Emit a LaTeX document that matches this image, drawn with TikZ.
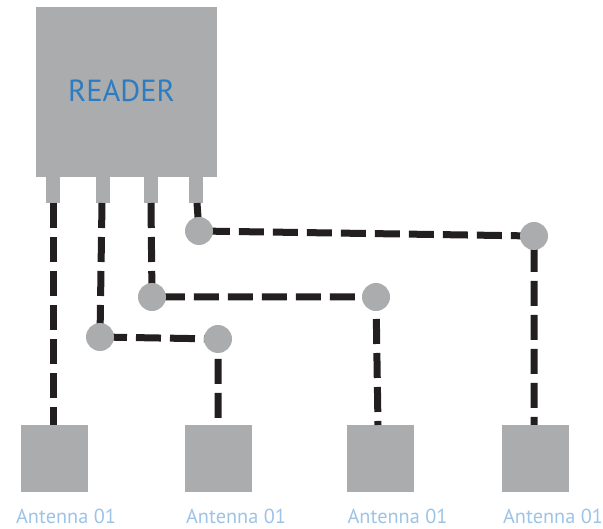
\documentclass[tikz,border=0pt]{standalone}
\usepackage{fontspec}
\setmainfont{PT Sans}
\definecolor{boxgrey}{HTML}{ABACAE}
\definecolor{readerblue}{HTML}{2D7CC1}
\definecolor{antblue}{HTML}{9DC3E6}
\definecolor{wire}{HTML}{231F20}
\begin{document}
\begin{tikzpicture}[x=1pt,y=-1pt,
  greybox/.style={fill=boxgrey,draw=none},
  wireline/.style={draw=wire,line width=7pt,dash pattern=on 25pt off 9pt},
  joint/.style={circle,fill=boxgrey,draw=none,minimum size=28pt,inner sep=0pt},
  antlabel/.style={text=antblue,font=\fontsize{20.3}{22}\selectfont,inner sep=0pt,anchor=base}]
\useasboundingbox (0,0) rectangle (603,529);
% reader
\fill[boxgrey] (36,7) rectangle (217,177);
\node[text=readerblue,font=\fontsize{30.5}{32}\selectfont,inner sep=0pt] (reader) at (121.5,91) {READER};
% pins
\fill[boxgrey] (46,176) rectangle (60,203);
\fill[boxgrey] (96,176) rectangle (110,203);
\fill[boxgrey] (144,176) rectangle (158,203);
\fill[boxgrey] (189,176) rectangle (203,203);
\coordinate (p1) at (53,203);
\coordinate (p2) at (102,203);
\coordinate (p3) at (151,203);
\coordinate (p4) at (197,203);
% antennas
\node[greybox,minimum width=67pt,minimum height=67pt,inner sep=0pt] (a1) at (54.5,458.5) {};
\node[greybox,minimum width=67pt,minimum height=67pt,inner sep=0pt] (a2) at (218.5,458.5) {};
\node[greybox,minimum width=67pt,minimum height=67pt,inner sep=0pt] (a3) at (380.5,458.5) {};
\node[greybox,minimum width=67pt,minimum height=67pt,inner sep=0pt] (a4) at (535.5,458.5) {};
\node[antlabel] (l1) at (66,523.5) {Antenna 01};
\node[antlabel] (l2) at (236,523.5) {Antenna 01};
\node[antlabel] (l3) at (397.5,523.5) {Antenna 01};
\node[antlabel] (l4) at (553,523.5) {Antenna 01};
% joints coordinates
\coordinate (j4a) at (199,231);
\coordinate (j4b) at (534,236);
\coordinate (j3a) at (152,297);
\coordinate (j3b) at (376,297);
\coordinate (j2a) at (100,337);
\coordinate (j2b) at (218,339);
% wires
\draw[wireline] (p1) -- (p1 |- a1.north);
\draw[wireline] (p2) -- (j2a) -- (j2b) -- (j2b |- a2.north);
\draw[wireline] (p3) -- (j3a) -- (j3b) -- (378,425);
\draw[wireline] (p4) -- (j4a) -- (j4b) -- (j4b |- a4.north);
% joint circles
\node[joint] (c4a) at (j4a) {};
\node[joint] (c4b) at (j4b) {};
\node[joint] (c3a) at (j3a) {};
\node[joint] (c3b) at (j3b) {};
\node[joint] (c2a) at (j2a) {};
\node[joint] (c2b) at (j2b) {};
\end{tikzpicture}
\end{document}
